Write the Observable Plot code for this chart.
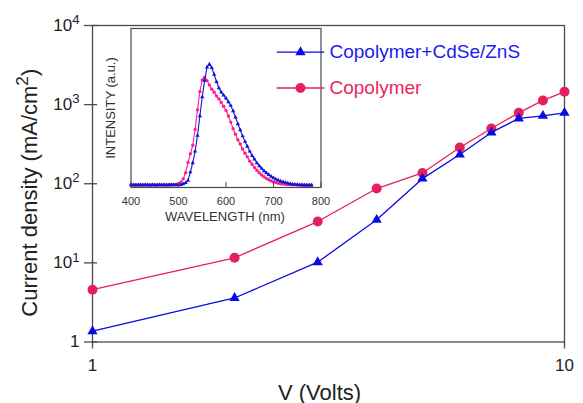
<!DOCTYPE html>
<html><head><meta charset="utf-8">
<script src="https://cdn.jsdelivr.net/npm/d3@7"></script>
<script src="https://cdn.jsdelivr.net/npm/@observablehq/plot@0.6"></script>
<style>
body{margin:0;background:#fff;}
#wrap{position:relative;width:583px;height:403px;font-family:"Liberation Sans",Arial,Helvetica,sans-serif;}
#wrap svg{position:absolute;overflow:visible;}
</style></head><body><div id="wrap"></div>
<script>
// ---- main chart data ----
const voltage = [1, 2, 3, 4, 5, 6, 7, 8, 9, 10];
const jHybrid = [1.37, 3.6, 10.2, 35, 116, 234, 445, 669, 722, 787];       // Copolymer+CdSe/ZnS
const jCopolymer = [4.58, 11.6, 33.3, 87, 137, 287, 500, 787, 1130, 1452];  // Copolymer
const seriesNames = ["Copolymer+CdSe/ZnS", "Copolymer"];
const yTicks = [1, 10, 100, 1000, 10000];
const xTicks = [1, 10];

// ---- inset (EL spectra) data ----
const wavelength = d3.range(400, 781, 5);
const elHybrid = [
  0.4,0.5,0.3,0.4,0.5,0.3,0.4,0.4,0.3,0.5,0.4,0.3,0.4,0.5,0.4,0.3,0.4,0.4,0.5,
  0.4,0.5,0.7,1.2,2.2,4.2,11,18.5,28,41,57,72.5,86,97,99.5,96.5,91,85,80,76.5,74,
  71.5,68.5,65.5,61,56,50.5,45.5,40.5,36,32,28,24.5,21.5,18.5,16,14,12,10.3,8.8,7.4,
  6.2,5.2,4.3,3.6,3.0,2.4,1.9,1.5,1.1,0.8,0.6,0.5,0.4,0.3,0.3,0.2,0.2
];
const elCopolymer = [
  0.6,0.5,0.7,0.6,0.5,0.6,0.7,0.5,0.6,0.6,0.5,0.7,0.6,0.5,0.6,0.7,0.6,0.6,0.8,
  1.0,1.6,2.8,5.5,10.5,19,26,33,46,62,77,86.5,88.8,86,82.5,79,76.5,73.5,71,68,65,
  61.5,57,52,46.5,42,37.5,34,30,26.5,23.5,20,17.5,14.8,12.5,10.5,8.7,7.2,5.9,4.7,3.8,
  3.0,2.4,1.9,1.5,1.2,1.0,0.8,0.7,0.6,0.6,0.5,0.5,0.5,0.4,0.4,0.4,0.4
];
const wlTicks = [400, 500, 600, 700, 800];

const blue = "#0a0ae6", pink = "#e3215b";
const insetBlue = "#1212dc", insetPink = "#ff1f8c";
const axisColor = "#4a4a4a", textColor = "#222";
const font = '"Liberation Sans", Arial, Helvetica, sans-serif';

const hyb = voltage.map((v, i) => ({v, j: jHybrid[i]}));
const cop = voltage.map((v, i) => ({v, j: jCopolymer[i]}));
const specH = wavelength.map((w, i) => ({w, I: elHybrid[i]}));
const specC = wavelength.map((w, i) => ({w, I: elCopolymer[i]}));

const legendStroke = {draw(context, l) { context.moveTo(0, 0); context.lineTo(0, -l); }};

const main = Plot.plot({
  width: 583, height: 403,
  marginLeft: 92, marginRight: 19, marginTop: 25, marginBottom: 61.5,
  style: {background: "transparent", fontFamily: font, color: textColor, overflow: "visible"},
  x: {type: "log", domain: [1, 10]},
  y: {type: "log", domain: [1, 10000]},
  marks: [
    Plot.frame({stroke: axisColor, strokeWidth: 1.3}),
    Plot.axisY({ticks: yTicks, tickSize: 13, dx: 5, tickPadding: 5, fontSize: 17, label: null,
      stroke: axisColor, fill: textColor, strokeWidth: 1.3,
      tickFormat: d => d === 1 ? "1" : "10^" + Math.round(Math.log10(d))}),
    Plot.axisX({ticks: xTicks, tickSize: 7, tickPadding: 9.5, fontSize: 17, label: null,
      stroke: axisColor, fill: textColor, strokeWidth: 1.3, tickFormat: d => String(d)}),
    Plot.line(cop, {x: "v", y: "j", stroke: pink, strokeWidth: 1.3}),
    Plot.dot(cop, {x: "v", y: "j", fill: pink, r: 5}),
    Plot.line(hyb, {x: "v", y: "j", stroke: blue, strokeWidth: 1.3}),
    Plot.dot(hyb, {x: "v", y: "j", symbol: "triangle", fill: blue, r: 3.8}),
    // axis titles
    Plot.text(["Current density (mA/cm^2^)"], {frameAnchor: "left", rotate: -90, dx: -63, dy: 9,
      textAnchor: "middle", lineAnchor: "middle", fontSize: 22, fill: textColor}),
    Plot.text(["V (Volts)"], {frameAnchor: "bottom", dx: -9, dy: 50.5,
      textAnchor: "middle", lineAnchor: "middle", fontSize: 22, fill: textColor}),
    // legend
    Plot.vector([seriesNames[0]], {frameAnchor: "top-left", dx: 208, dy: 26.7, rotate: 90, length: 46.6,
      anchor: "middle", shape: legendStroke, stroke: blue, strokeWidth: 1.3}),
    Plot.dot([seriesNames[0]], {frameAnchor: "top-left", dx: 208, dy: 26.7, symbol: "triangle", fill: blue, r: 3.8}),
    Plot.text([seriesNames[0]], {frameAnchor: "top-left", dx: 237, dy: 26.7, textAnchor: "start",
      lineAnchor: "middle", fontSize: 19, fill: "#1c1cf0"}),
    Plot.vector([seriesNames[1]], {frameAnchor: "top-left", dx: 208, dy: 62.5, rotate: 90, length: 46.6,
      anchor: "middle", shape: legendStroke, stroke: pink, strokeWidth: 1.3}),
    Plot.dot([seriesNames[1]], {frameAnchor: "top-left", dx: 208, dy: 62.5, fill: pink, r: 5}),
    Plot.text([seriesNames[1]], {frameAnchor: "top-left", dx: 237, dy: 62.5, textAnchor: "start",
      lineAnchor: "middle", fontSize: 19, fill: "#e8265e"})
  ]
});

const inset = Plot.plot({
  width: 230, height: 210,
  marginLeft: 30.5, marginRight: 9.5, marginTop: 8, marginBottom: 43,
  style: {background: "transparent", fontFamily: font, color: "#333", overflow: "visible"},
  x: {domain: [400, 800]},
  y: {domain: [-1.6, 128.7], axis: null},
  marks: [
    Plot.frame({fill: "white", stroke: axisColor, strokeWidth: 1.2}),
    Plot.line(specC, {x: "w", y: "I", stroke: insetPink, strokeWidth: 1.1}),
    Plot.dot(specC, {x: "w", y: "I", fill: insetPink, r: 1.7}),
    Plot.line(specH, {x: "w", y: "I", stroke: insetBlue, strokeWidth: 1.1}),
    Plot.dot(specH, {x: "w", y: "I", symbol: "triangle", fill: insetBlue, r: 1.6}),
    Plot.axisX({ticks: wlTicks, tickSize: 5, dy: -5, tickPadding: 10, fontSize: 11, label: null,
      stroke: axisColor, fill: "#333", tickFormat: d => String(d)}),
    Plot.text(["WAVELENGTH (nm)"], {frameAnchor: "bottom", dx: -1, dy: 29,
      textAnchor: "middle", lineAnchor: "middle", fontSize: 13, fill: "#333"}),
    Plot.text(["INTENSITY (a.u.)"], {frameAnchor: "left", rotate: -90, dx: -20.5, dy: 0,
      textAnchor: "middle", lineAnchor: "middle", fontSize: 13, fill: "#333"})
  ]
});

// superscripts: parts separated by "^" alternate normal / superscript
function superscripts(svg, supSize, shift) {
  d3.select(svg).selectAll("text").each(function() {
    const el = this;
    if (el.querySelector("tspan")) return;
    const t = el.textContent;
    if (!t.includes("^")) return;
    const parts = t.split("^");
    const size = parseFloat(getComputedStyle(el).fontSize) || 17;
    el.textContent = "";
    parts.forEach((p, k) => {
      if (p === "") return;
      const ts = d3.select(el).append("tspan").text(p);
      if (k % 2 === 1) {
        ts.attr("font-size", size * supSize).attr("dy", -size * shift);
      } else if (k > 0) {
        ts.attr("dy", size * shift);
      }
    });
  });
}

const wrap = document.getElementById("wrap");
inset.style.left = "100px"; inset.style.top = "20px";
main.style.left = "0px"; main.style.top = "0px";
wrap.appendChild(inset);
wrap.appendChild(main);
superscripts(main, 0.78, 0.4);
</script></body></html>
